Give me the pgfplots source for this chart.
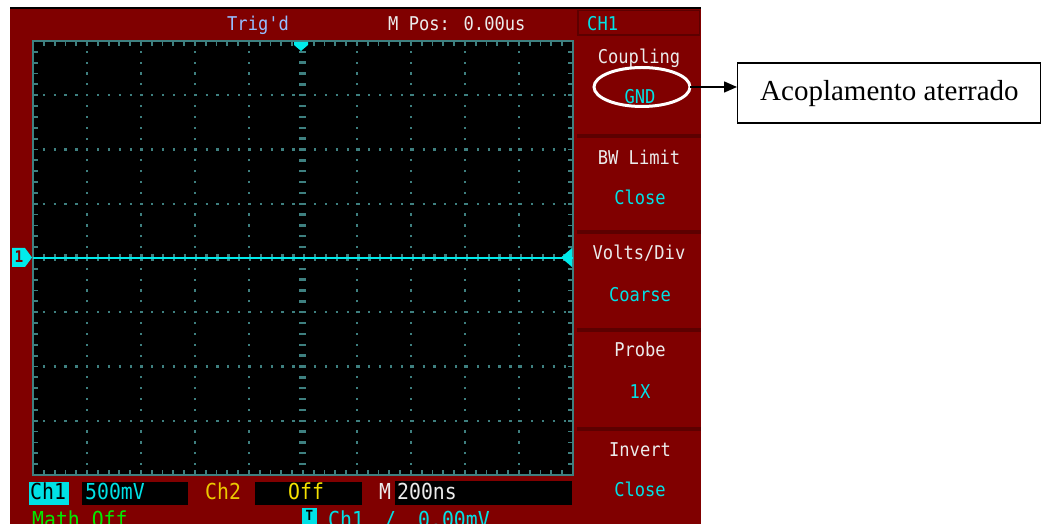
\documentclass[border=0pt]{standalone}
\usepackage{pgfplots}
\pgfplotsset{compat=1.18}
\usepackage{fontspec}
\setmainfont{Liberation Serif}
\newfontfamily\scfont[FakeStretch=0.9]{DejaVu Sans Mono}
\usetikzlibrary{arrows.meta}
\definecolor{scred}{RGB}{128,0,0}
\definecolor{scdark}{RGB}{92,0,0}
\definecolor{gridc}{RGB}{62,128,128}
\definecolor{trc}{RGB}{0,235,235}
\definecolor{cyt}{RGB}{0,225,230}
\definecolor{trigc}{RGB}{150,190,255}
\definecolor{yelc}{RGB}{245,225,0}
\definecolor{orc}{RGB}{235,200,0}
\definecolor{grc}{RGB}{0,235,0}
\definecolor{whc}{RGB}{235,235,235}
\begin{document}
\begin{tikzpicture}[x=1pt,y=1pt]
\path[use as bounding box] (0,0) rectangle (1042,524);
\clip (0,0) rectangle (1042,524);
% ---------- background frame (pixel coordinates, y downward) ----------
\begin{scope}[shift={(0,524)}, y=-1pt]
\fill[white] (0,0) rectangle (1042,524);
\fill[scred] (10,8) rectangle (701,524);
\draw[black, line width=2pt] (10,8.5) -- (701,8.5);
% header CH1 box
\draw[scdark, line width=1.5pt] (578,10.5) rectangle (699.5,35);
% panel separators
\foreach \yy in {136,232,330,429}{
  \fill[scdark] (577,\yy-2) rectangle (701,\yy+2);
}
% header text
\node[font=\scfont\fontsize{19}{19}\selectfont, text=trigc, anchor=base west, inner sep=0] at (227,31) {Trig'd};
\node[font=\scfont\fontsize{19}{19}\selectfont, text=whc, anchor=base west, inner sep=0] at (388,31) {M Pos: 0.00us};
\node[font=\scfont\fontsize{19}{19}\selectfont, text=cyt, anchor=base west, inner sep=0] at (587,31) {CH1};
% panel text
\tikzset{pl/.style={font=\scfont\fontsize{19}{19}\selectfont, anchor=base, inner sep=0}}
\node[pl, text=whc] at (639,64) {Coupling};
\node[pl, text=cyt] at (640,104) {GND};
\node[pl, text=whc] at (639,165) {BW Limit};
\node[pl, text=cyt] at (640,205) {Close};
\node[pl, text=whc] at (639,260) {Volts/Div};
\node[pl, text=cyt] at (640,302) {Coarse};
\node[pl, text=whc] at (640,357) {Probe};
\node[pl, text=cyt] at (640,399) {1X};
\node[pl, text=whc] at (640,457) {Invert};
\node[pl, text=cyt] at (640,497) {Close};
% bottom status row 1
\fill[cyt] (29,482) rectangle (69,505);
\fill[black] (82,482) rectangle (188,505);
\fill[black] (255,482) rectangle (362,505);
\fill[black] (395,481) rectangle (572,505);
\tikzset{bl/.style={font=\scfont\fontsize{22}{22}\selectfont, anchor=base west, inner sep=0}}
\node[bl, text=black] at (30,500) {Ch1};
\node[bl, text=cyt] at (85,500) {500mV};
\node[bl, text=orc] at (205,500) {Ch2};
\node[bl, text=yelc] at (288,500) {Off};
\node[bl, text=whc] at (379,500) {M};
\node[bl, text=whc] at (397,500) {200ns};
% bottom status row 2 (cut by the picture's lower edge, as in the reference)
\node[bl, text=grc] at (32,528) {Math Off};
\fill[cyt] (302,508) rectangle (317,524);
\node[font=\scfont\bfseries\fontsize{14}{14}\selectfont, text=black, anchor=base, inner sep=0] at (309.5,521) {T};
\node[bl, text=cyt] at (328,528) {Ch1};
\node[bl, text=cyt] at (384,528) {/};
\node[bl, text=cyt] at (418,528) {0.00mV};
\end{scope}
% ---------- the screen ----------
\begin{axis}[
  at={(33pt,49pt)}, anchor=south west, scale only axis,
  width=540pt, height=434pt,
  xmin=-5, xmax=5, ymin=-4, ymax=4,
  axis background/.style={fill=black},
  axis line style={gridc, line width=2.5pt},
  xtick={-5,...,5}, ytick={-4,...,4},
  minor x tick num=4, minor y tick num=4,
  xticklabels={}, yticklabels={},
  tick align=inside,
  major tick length=5pt, minor tick length=5pt,
  every tick/.style={gridc, line width=1.8pt},
  grid=major,
  major grid style={gridc, line width=2.2pt, dash pattern=on 2.2pt off 8.65pt, dash phase=1.1pt},
  clip=false,
]
\draw[gridc, line width=7pt, dash pattern=on 2.4pt off 8.45pt, dash phase=1.2pt] (axis cs:0,-4) -- (axis cs:0,4);
\draw[gridc, line width=7pt, dash pattern=on 2.4pt off 8.45pt, dash phase=1.2pt] (axis cs:-5,0) -- (axis cs:5,0);
\addplot[trc, line width=2pt] coordinates {(-5,0) (5,0)};
\end{axis}
% ---------- overlays ----------
\begin{scope}[shift={(0,524)}, y=-1pt]
% trigger position marker
\fill[trc] (294,42) -- (308,42) -- (308,45) -- (301,51) -- (294,45) -- cycle;
% channel 1 level marker (left)
\fill[trc] (12,248) -- (25,248) -- (32,257.5) -- (25,267) -- (12,267) -- cycle;
\node[font=\scfont\bfseries\fontsize{16}{16}\selectfont, text=scred, inner sep=0] at (19,257) {1};
% trigger level marker (right)
\fill[trc] (572,248) -- (572,267) -- (561,257.5) -- cycle;
% annotation
\draw[white, line width=3pt] (642,87) ellipse [x radius=48, y radius=19.5];
\draw[black, line width=1.5pt, -{Triangle[length=13pt,width=11pt]}] (690,87) -- (737,87);
\draw[black, line width=1.2pt, fill=white] (737.5,63) rectangle (1040.5,123);
\node[font=\fontsize{29}{29}\selectfont, anchor=base west, inner sep=0] at (760,101) {Acoplamento aterrado};
\end{scope}
\end{tikzpicture}
\end{document}
